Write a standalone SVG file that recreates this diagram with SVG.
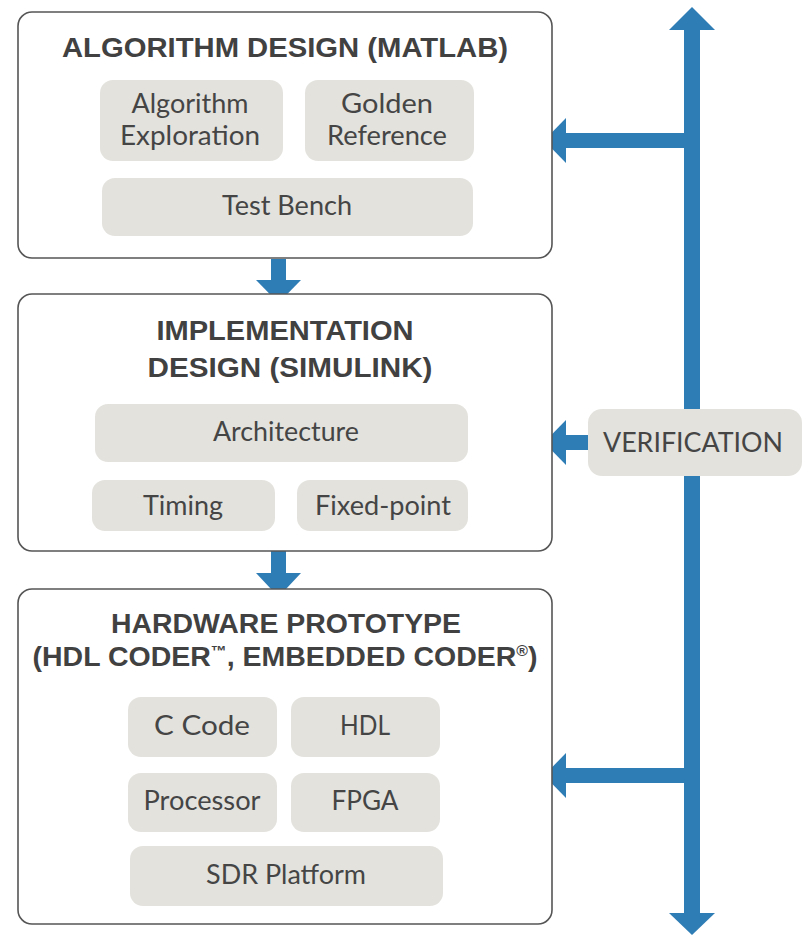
<svg xmlns="http://www.w3.org/2000/svg" width="804" height="935" viewBox="0 0 804 935">
<style>
.box{fill:#fff;stroke:#555;stroke-width:1.6}
.item{fill:#e3e2dd}
.t{font-family:"Liberation Sans","DejaVu Sans",sans-serif;font-weight:bold;font-size:27px;fill:#414141;text-anchor:middle}
.i{font-family:Lato,"Open Sans","Liberation Sans",sans-serif;font-size:26px;fill:#454545;text-anchor:middle}
.sup{font-size:15px}
.blue{fill:#2f7db5}
</style>
<rect width="804" height="935" fill="#fff"/>
<g id="connectors">
  <rect class="blue" x="684" y="28" width="16" height="888"/>
  <polygon class="blue" points="669,30 692,7 715,30"/>
  <polygon class="blue" points="669,913 692,935 715,913"/>
  <rect class="blue" x="565" y="133" width="127" height="15"/>
  <polygon class="blue" points="566,118 544,140.5 566,163"/>
  <rect class="blue" x="565" y="435" width="30" height="15"/>
  <polygon class="blue" points="566,420 544,442.5 566,465"/>
  <rect class="blue" x="565" y="768" width="127" height="15"/>
  <polygon class="blue" points="566,753 544,775.5 566,798"/>
  <rect class="blue" x="271" y="259" width="15" height="22"/>
  <polygon class="blue" points="256,280 278.5,303 301,280"/>
  <rect class="blue" x="271" y="551" width="15" height="23"/>
  <polygon class="blue" points="256,573 278.5,597 301,573"/>
</g>
<g id="algorithm-design">
  <rect class="box" x="18" y="12" width="534" height="246" rx="14"/>
  <text class="t" x="285" y="57" textLength="446" lengthAdjust="spacingAndGlyphs">ALGORITHM DESIGN (MATLAB)</text>
  <g id="algorithm-exploration">
    <rect class="item" x="100" y="80" width="183" height="81" rx="13"/>
    <text class="i" x="190" y="113" textLength="117" lengthAdjust="spacingAndGlyphs">Algorithm</text>
    <text class="i" x="190" y="145" textLength="140" lengthAdjust="spacingAndGlyphs">Exploration</text>
  </g>
  <g id="golden-reference">
    <rect class="item" x="305" y="80" width="169" height="81" rx="13"/>
    <text class="i" x="387" y="113" textLength="92" lengthAdjust="spacingAndGlyphs">Golden</text>
    <text class="i" x="387" y="145" textLength="120" lengthAdjust="spacingAndGlyphs">Reference</text>
  </g>
  <g id="test-bench">
    <rect class="item" x="102" y="178" width="371" height="58" rx="13"/>
    <text class="i" x="287" y="215" textLength="130" lengthAdjust="spacingAndGlyphs">Test Bench</text>
  </g>
</g>
<g id="implementation-design">
  <rect class="box" x="18" y="294" width="534" height="257" rx="14"/>
  <text class="t" x="285" y="340" textLength="257" lengthAdjust="spacingAndGlyphs">IMPLEMENTATION</text>
  <text class="t" x="290" y="377" textLength="285" lengthAdjust="spacingAndGlyphs">DESIGN (SIMULINK)</text>
  <g id="architecture">
    <rect class="item" x="95" y="404" width="373" height="58" rx="13"/>
    <text class="i" x="286" y="441" textLength="146" lengthAdjust="spacingAndGlyphs">Architecture</text>
  </g>
  <g id="timing">
    <rect class="item" x="92" y="480" width="183" height="51" rx="13"/>
    <text class="i" x="183" y="515" textLength="80" lengthAdjust="spacingAndGlyphs">Timing</text>
  </g>
  <g id="fixed-point">
    <rect class="item" x="297" y="480" width="171" height="51" rx="13"/>
    <text class="i" x="383" y="515" textLength="136" lengthAdjust="spacingAndGlyphs">Fixed-point</text>
  </g>
</g>
<g id="hardware-prototype">
  <rect class="box" x="18" y="589" width="534" height="335" rx="14"/>
  <text class="t" x="286" y="633" textLength="350" lengthAdjust="spacingAndGlyphs">HARDWARE PROTOTYPE</text>
  <text class="t" x="285" y="666" textLength="505" lengthAdjust="spacingAndGlyphs">(HDL CODER<tspan class="sup" dy="-10">™</tspan><tspan dy="10">, EMBEDDED CODER</tspan><tspan class="sup" dy="-10">®</tspan><tspan dy="10">)</tspan></text>
  <g id="c-code">
    <rect class="item" x="128" y="697" width="149" height="60" rx="13"/>
    <text class="i" x="202" y="735" textLength="96" lengthAdjust="spacingAndGlyphs">C Code</text>
  </g>
  <g id="hdl">
    <rect class="item" x="291" y="697" width="149" height="60" rx="13"/>
    <text class="i" x="365" y="735" textLength="50" lengthAdjust="spacingAndGlyphs">HDL</text>
  </g>
  <g id="processor">
    <rect class="item" x="128" y="773" width="149" height="59" rx="13"/>
    <text class="i" x="202" y="810" textLength="117" lengthAdjust="spacingAndGlyphs">Processor</text>
  </g>
  <g id="fpga">
    <rect class="item" x="291" y="773" width="149" height="59" rx="13"/>
    <text class="i" x="365" y="810" textLength="67" lengthAdjust="spacingAndGlyphs">FPGA</text>
  </g>
  <g id="sdr-platform">
    <rect class="item" x="130" y="846" width="313" height="60" rx="13"/>
    <text class="i" x="286" y="884" textLength="160" lengthAdjust="spacingAndGlyphs">SDR Platform</text>
  </g>
</g>
<g id="verification">
  <rect class="item" x="588" y="409" width="214" height="67" rx="14"/>
  <text class="i" x="693" y="452" font-size="28" textLength="180" lengthAdjust="spacingAndGlyphs">VERIFICATION</text>
</g>
</svg>
